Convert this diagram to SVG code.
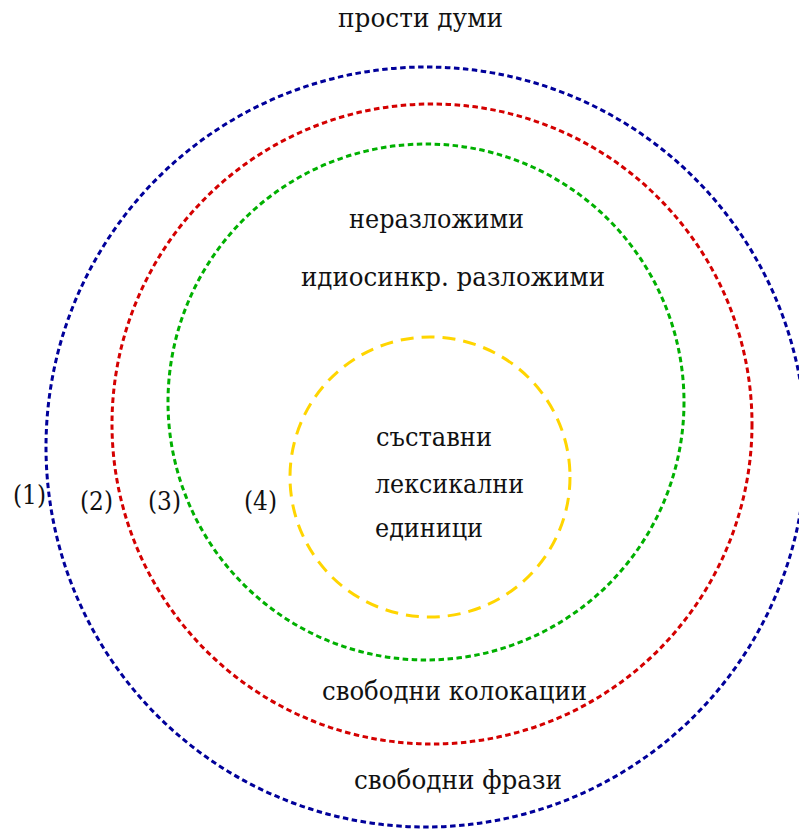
<svg xmlns="http://www.w3.org/2000/svg" width="799" height="830" viewBox="0 0 799 830">
<style>
.c{fill:none;stroke-width:3}
.b{stroke:#00009a;stroke-dasharray:5.5 3.5}
.r{stroke:#d40000;stroke-dasharray:5.5 3.5}
.g{stroke:#00b000;stroke-dasharray:5.5 3.5}
.y{stroke:#ffd500;stroke-dasharray:13 8}
text{font-family:"DejaVu Serif","Liberation Serif",serif;font-size:26px;fill:#111}
</style>
<rect width="799" height="830" fill="#fff"/>
<g id="circles">
<g id="c1"><circle class="c b" cx="426" cy="447" r="380"/></g>
<g id="c2"><circle class="c r" cx="432" cy="424" r="320"/></g>
<g id="c3"><circle class="c g" cx="426" cy="402" r="258"/></g>
<g id="c4"><circle class="c y" cx="430" cy="477" r="140"/></g>
</g>
<g id="labels">
<text x="338" y="27" textLength="165" lengthAdjust="spacingAndGlyphs">прости думи</text>
<text x="349" y="228" textLength="175" lengthAdjust="spacingAndGlyphs">неразложими</text>
<text x="301" y="286" textLength="304" lengthAdjust="spacingAndGlyphs">идиосинкр. разложими</text>
<text x="376" y="446" textLength="116" lengthAdjust="spacingAndGlyphs">съставни</text>
<text x="375" y="493" textLength="149" lengthAdjust="spacingAndGlyphs">лексикални</text>
<text x="375" y="537" textLength="108" lengthAdjust="spacingAndGlyphs">единици</text>
<text x="322" y="700" textLength="265" lengthAdjust="spacingAndGlyphs">свободни колокации</text>
<text x="354" y="789" textLength="208" lengthAdjust="spacingAndGlyphs">свободни фрази</text>
<text x="13" y="504" textLength="33" lengthAdjust="spacingAndGlyphs">(1)</text>
<text x="80" y="510" textLength="33" lengthAdjust="spacingAndGlyphs">(2)</text>
<text x="148" y="510" textLength="33" lengthAdjust="spacingAndGlyphs">(3)</text>
<text x="244" y="510" textLength="33" lengthAdjust="spacingAndGlyphs">(4)</text>
</g>
</svg>
